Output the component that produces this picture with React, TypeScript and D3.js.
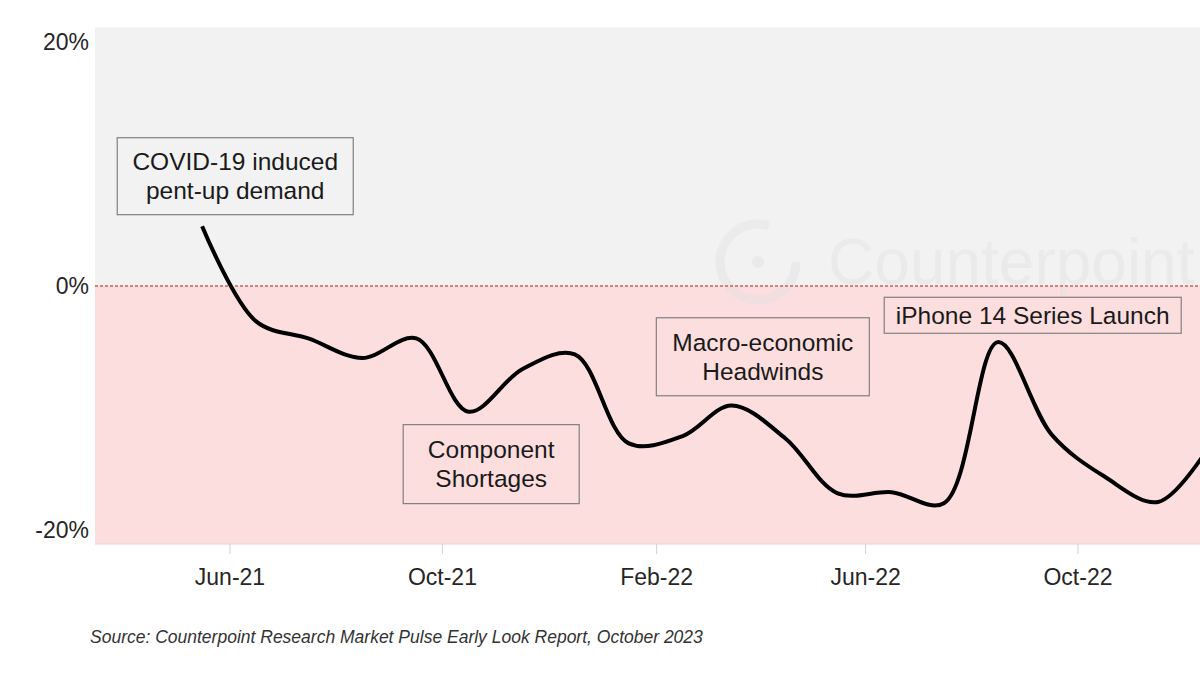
import * as d3 from "d3";

// monthly YoY change (%), points sit mid-month
const MONTHS = [
  "2021-05", "2021-06", "2021-07", "2021-08", "2021-09", "2021-10", "2021-11", "2021-12",
  "2022-01", "2022-02", "2022-03", "2022-04", "2022-05", "2022-06", "2022-07", "2022-08",
  "2022-09", "2022-10", "2022-11", "2022-12",
];
const VALUES = [
  4.9, -2.9, -4.3, -5.9, -4.3, -10.3, -6.8, -5.6,
  -12.9, -12.3, -9.8, -12.5, -17.0, -16.9, -17.8, -4.6,
  -12.2, -15.6, -17.7, -13.0,
];
const X_TICKS = ["2021-06", "2021-10", "2022-02", "2022-06", "2022-10"];
const X_TICK_LABELS = ["Jun-21", "Oct-21", "Feb-22", "Jun-22", "Oct-22"];
const Y_TICKS = [20, 0, -20];

const NOTES = [
  { lines: ["COVID-19 induced", "pent-up demand"], date: "2021-06-04", value: 9.0, w: 236, h: 77 },
  { lines: ["Component", "Shortages"], date: "2021-10-29", value: -14.6, w: 176, h: 79 },
  { lines: ["Macro-economic", "Headwinds"], date: "2022-04-03", value: -5.8, w: 213, h: 78 },
  { lines: ["iPhone 14 Series Launch"], date: "2022-09-05", value: -2.4, w: 297, h: 36 },
];

const W = 1200, H = 677;
const FONT = "'Liberation Sans', Arial, Helvetica, sans-serif";
const parseMonth = (s: string) => {
  const [y, m] = s.split("-").map(Number);
  return new Date(y, m - 1, 1);
};
const parseDay = (s: string) => {
  const [y, m, d] = s.split("-").map(Number);
  return new Date(y, m - 1, d);
};

export default function App() {
  const x = d3.scaleTime()
    .domain([parseMonth("2021-06"), parseMonth("2022-10")])
    .range([230, 1078]);
  const y = d3.scaleLinear().domain([-20, 20]).range([530, 42]);

  const plotL = 95, plotR = W;
  const plotTop = y(21.2), plotBot = y(-21.15);

  const data = MONTHS.map((m, i) => {
    const d = parseMonth(m);
    return { date: new Date(d.getFullYear(), d.getMonth(), 16), v: VALUES[i] };
  });

  const line = d3.line<{ date: Date; v: number }>()
    .x((d) => x(d.date))
    .y((d) => y(d.v))
    .curve(d3.curveCatmullRom.alpha(0.5));

  return (
    <svg width={W} height={H} style={{ position: "absolute", left: 0, top: 0, background: "#fff" }} fontFamily={FONT}>
      <defs>
        <clipPath id="plot">
          <rect x={plotL} y={plotTop} width={plotR - plotL} height={plotBot - plotTop} />
        </clipPath>
      </defs>

      <rect x={plotL} y={plotTop} width={plotR - plotL} height={y(0) - plotTop} fill="#f2f2f2" />
      <rect x={plotL} y={y(0)} width={plotR - plotL} height={plotBot - y(0)} fill="#fddede" />

      {/* faint watermark, cut by the plot edge as in the source */}
      <g opacity={0.4} clipPath="url(#plot)">
        <circle cx={758} cy={262} r={38} fill="none" stroke="#e0e0e0" strokeWidth={9} strokeDasharray="190 50" />
        <circle cx={758} cy={262} r={6} fill="#e0e0e0" />
        <text x={828} y={284} fontSize={64} fill="#e0e0e0">Counterpoint</text>
      </g>

      <line x1={plotL} x2={plotR} y1={plotBot} y2={plotBot} stroke="#d9d9d9" strokeWidth={1} />
      {X_TICKS.map((t, i) => {
        const px = x(parseMonth(t));
        return (
          <g key={t}>
            <line x1={px} x2={px} y1={plotBot} y2={plotBot + 10} stroke="#d0d0d0" strokeWidth={1} />
            <text x={px} y={585} fontSize={23} textAnchor="middle" fill="#262626">{X_TICK_LABELS[i]}</text>
          </g>
        );
      })}
      {Y_TICKS.map((t) => (
        <text key={t} x={89} y={y(t) + 8} fontSize={23} textAnchor="end" fill="#262626">{t}%</text>
      ))}

      <line x1={plotL} x2={plotR} y1={y(0)} y2={y(0)} stroke="#b01c1c" strokeWidth={1} strokeDasharray="3 2" />

      <path d={line(data) ?? ""} fill="none" stroke="#000" strokeWidth={4} strokeLinejoin="round" clipPath="url(#plot)" />

      {NOTES.map((n) => {
        const cx = x(parseDay(n.date));
        const cy = y(n.value);
        const lh = 29;
        const first = cy - ((n.lines.length - 1) * lh) / 2 + 8.5;
        return (
          <g key={n.lines[0]}>
            <rect x={cx - n.w / 2} y={cy - n.h / 2} width={n.w} height={n.h} fill="none" stroke="#808080" strokeWidth={1.2} />
            {n.lines.map((l, i) => (
              <text key={l} x={cx} y={first + i * lh} fontSize={24.5} textAnchor="middle" fill="#1a1a1a">{l}</text>
            ))}
          </g>
        );
      })}

      <text x={90} y={643} fontSize={17.5} fontStyle="italic" fill="#333">
        Source: Counterpoint Research Market Pulse Early Look Report, October 2023
      </text>
    </svg>
  );
}
